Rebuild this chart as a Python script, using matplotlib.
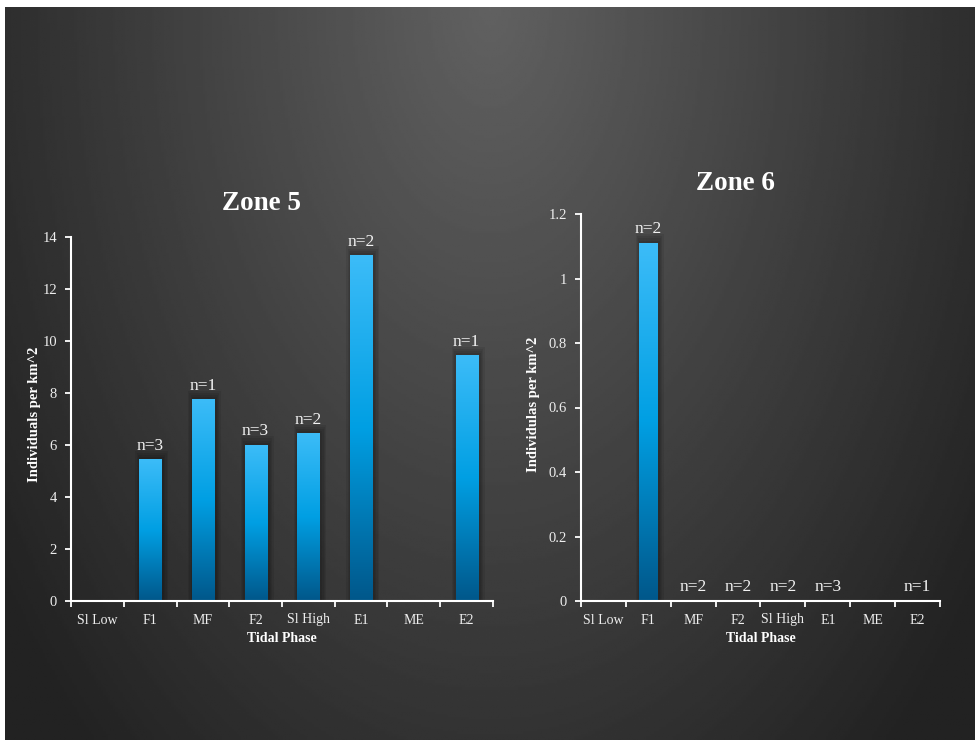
import numpy as np
import matplotlib.pyplot as plt
from matplotlib.colors import LinearSegmentedColormap
from matplotlib.patches import Rectangle
from matplotlib.ticker import FuncFormatter

# data
phases = ['Sl Low', 'F1', 'MF', 'F2', 'Sl High', 'E1', 'ME', 'E2']
zone5 = [0, 5.45, 7.75, 6.0, 6.45, 13.3, 0, 9.45]
zone5_n = ['', 'n=3', 'n=1', 'n=3', 'n=2', 'n=2', '', 'n=1']
zone6 = [0, 1.11, 0, 0, 0, 0, 0, 0]
zone6_n = ['', 'n=2', 'n=2', 'n=2', 'n=2', 'n=3', '', 'n=1']

serif = 'Liberation Serif'
W, H = 978, 743

fig = plt.figure(figsize=(W/100, H/100), dpi=100)
fig.patch.set_facecolor('white')

# dark radial background
bg = fig.add_axes([5/W, 3/H, (W-8)/W, (H-10)/H])
yy, xx = np.mgrid[0:1:300j, 0:1:400j]
d = np.sqrt(((xx-0.5)/0.62)**2 + (yy/1.35)**2)
v = 0.38 - 0.245*np.clip(d, 0, 1)
bg.imshow(v, cmap='gray', vmin=0, vmax=1, extent=[0, 1, 0, 1], origin='upper', aspect='auto')
bg.axis('off')

cmap = LinearSegmentedColormap.from_list('bar', ['#00578a', '#009fe3', '#3cbcf8'])
grad = np.linspace(0, 1, 256).reshape(-1, 1)


def px(x0, y0, x1, y1):
    # pixel box (top-left origin) to figure fraction rect
    return [x0/W, 1 - y1/H, (x1-x0)/W, (y1-y0)/H]


def draw(rect, vals, labels, ymax, ystep):
    ax = fig.add_axes(rect)
    ax.patch.set_alpha(0)
    x = np.arange(len(phases))
    w = 0.42
    for xi, h, lab in zip(x, vals, labels):
        if h > 0:
            for k in range(1, 5):
                ax.add_patch(Rectangle((xi - w/2 - 0.025*k + 0.03, 0), w + 0.05*k, h + ymax*0.006*k,
                                       color='black', alpha=0.08, lw=0, zorder=1))
            ax.imshow(grad, cmap=cmap, origin='lower', aspect='auto',
                      extent=[xi - w/2, xi + w/2, 0, h], zorder=2)
        if lab:
            ax.annotate(lab, (xi, h), xytext=(0, 4), textcoords='offset points',
                        ha='center', va='bottom', color='#f2f2f2', fontsize=12.5, family=serif)
    ax.set_xlim(-0.5, len(phases) - 0.5)
    ax.set_ylim(0, ymax)
    ax.set_yticks(np.arange(0, ymax + ystep/2, ystep))
    ax.yaxis.set_major_formatter(FuncFormatter(lambda v, p: '%g' % round(v, 2)))
    ax.set_xticks(x)
    ax.set_xticklabels(phases)
    ax.set_xticks(np.arange(-0.5, len(phases)), minor=True)
    for s in ['top', 'right']:
        ax.spines[s].set_visible(False)
    for s in ['left', 'bottom']:
        ax.spines[s].set_color('white')
        ax.spines[s].set_linewidth(1.5)
    ax.tick_params(axis='x', which='major', length=0, pad=9, colors='#eeeeee', labelsize=10)
    ax.tick_params(axis='x', which='minor', length=4, width=1.3, color='white')
    ax.tick_params(axis='y', length=4, width=1.3, color='white', labelcolor='#eeeeee', labelsize=10.5, pad=6)
    for t in ax.get_xticklabels() + ax.get_yticklabels():
        t.set_family(serif)
    return ax


draw(px(71, 237, 493, 601), zone5, zone5_n, 14, 2)
draw(px(581, 214, 940, 601), zone6, zone6_n, 1.2, 0.2)

def ft(xp, yp, s, **kw):
    fig.text(xp/W, 1 - yp/H, s, ha='center', va='center', color='white', family=serif, **kw)

ft(262, 204, 'Zone 5', fontsize=19.5, fontweight='bold')
ft(735, 183, 'Zone 6', fontsize=19.5, fontweight='bold')
ft(282, 639, 'Tidal Phase', fontsize=10, fontweight='bold')
ft(761, 639, 'Tidal Phase', fontsize=10, fontweight='bold')
ft(35, 414, 'Individuals per km^2', fontsize=10.5, fontweight='bold', rotation=90)
ft(533, 404, 'Individulas per km^2', fontsize=10.5, fontweight='bold', rotation=90)

fig.savefig('out.png', dpi=100, facecolor=fig.get_facecolor())
